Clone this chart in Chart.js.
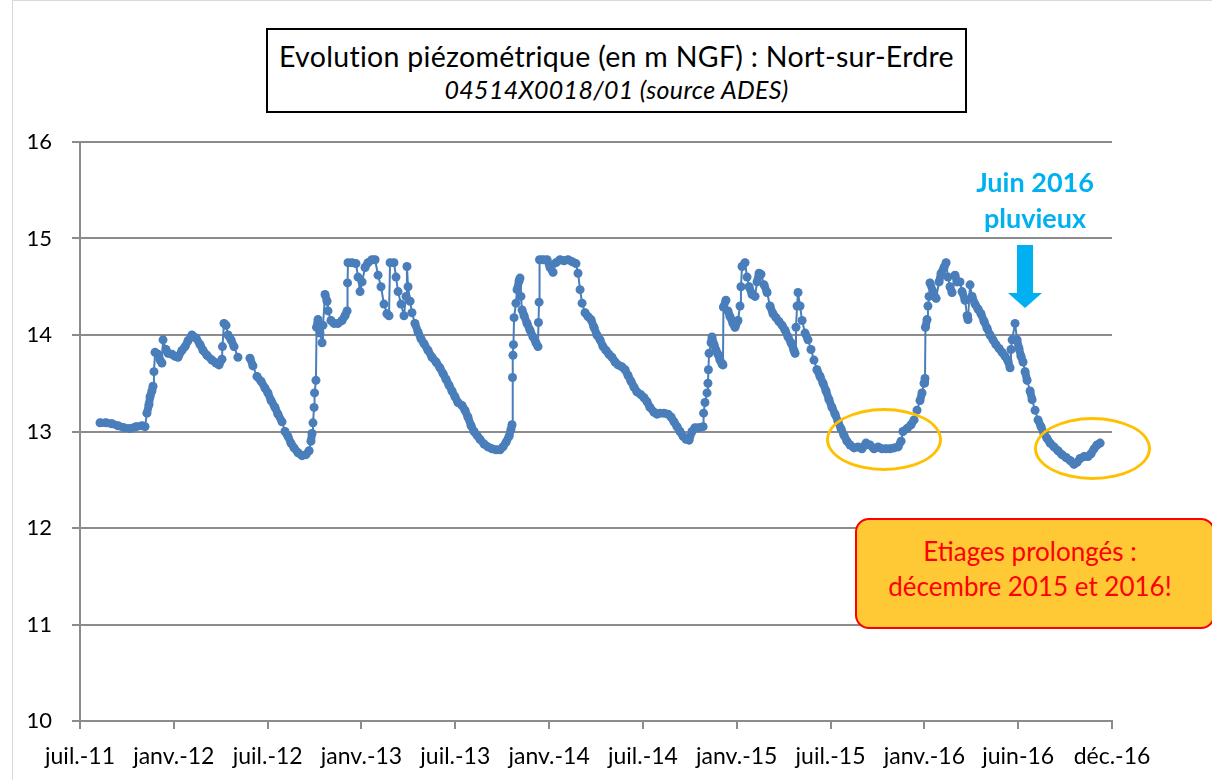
<!DOCTYPE html>
<html>
<head>
<meta charset="utf-8">
<script src="https://cdn.jsdelivr.net/npm/chart.js@4"></script>
<style>
  body { margin: 0; background: #fff; }
  #wrap { position: relative; width: 1212px; height: 780px; overflow: hidden; font-family: Lato, "Open Sans", sans-serif; }
  #frame { position: absolute; left: 12px; top: 0; width: 1212px; height: 790px; border-left: 1px solid #d9d9d9; border-top: 1px solid #d9d9d9; }
  canvas { position: absolute; left: 0; top: 0; }
  .titlebox { position: absolute; left: 266px; top: 28px; width: 697px; height: 81px; border: 2px solid #000; background: #fff; text-align: center; }
  .titlebox .l1 { font-size: 28.5px; margin-top: 10px; line-height: 33px; letter-spacing: 0.3px; }
  .titlebox .l2 { font-size: 25px; font-style: italic; line-height: 33px; letter-spacing: 0.3px; }
  .pluie { position: absolute; left: 955px; top: 164px; width: 160px; text-align: center; color: #00b0f0; font-weight: bold; font-size: 27px; line-height: 36px; }
  .ellipse { position: absolute; border: 3px solid #ffc000; border-radius: 50%; box-sizing: border-box; }
  .etiage { position: absolute; left: 855px; top: 518px; width: 360px; height: 111px; box-sizing: border-box; border: 2px solid #ff0000; border-radius: 14px; background: #ffc936; color: #ff0000; text-align: center; font-size: 26px; line-height: 35px; padding-top: 14px; padding-right: 10px; }
</style>
</head>
<body>
<div id="wrap">
  <div id="frame"></div>
  <canvas id="piezo" width="1212" height="780"></canvas>
  <div class="titlebox">
    <div class="l1">Evolution piézométrique (en m NGF) : Nort-sur-Erdre</div>
    <div class="l2">04514X0018/01 (source ADES)</div>
  </div>
  <div class="pluie">Juin 2016<br>pluvieux</div>
  <svg style="position:absolute;left:1000px;top:240px" width="50" height="75">
    <polygon points="17,5 33,5 33,53 42,53 25,68 8,53 17,53" fill="#00b0f0"/>
  </svg>
  <div class="ellipse" style="left:826px;top:408px;width:116px;height:63px"></div>
  <div class="ellipse" style="left:1034px;top:417px;width:117px;height:63px"></div>
  <div class="etiage">Etiages prolongés :<br>décembre 2015 et 2016!</div>
</div>
<script>
// axe des temps : mois écoulés depuis juil.-11
const tickLabels = ['juil.-11', 'janv.-12', 'juil.-12', 'janv.-13', 'juil.-13', 'janv.-14',
    'juil.-14', 'janv.-15', 'juil.-15', 'janv.-16', 'juin-16', 'déc.-16'];

const mois = [
    1.28, 1.66, 2.05, 2.43, 2.81, 3.20, 3.58, 3.97, 4.16, 4.28, 4.41, 4.48, 4.60, 4.67, 4.73, 4.80,
    4.99, 5.12, 5.24, 5.31, 5.50, 5.63, 5.88, 6.08, 6.27, 6.52, 6.72, 6.91, 7.16, 7.42, 7.68, 7.87,
    8.12, 8.44, 8.70, 8.89, 9.08, 9.11, 9.21, 9.34, 9.47, 9.66, 9.85, 10.10, 10.50, 10.87, 11.06, 11.32,
    11.58, 11.83, 12.02, 12.22, 12.47, 12.66, 12.92, 13.11, 13.30, 13.49, 13.69, 13.94, 14.20, 14.45,
    14.65, 14.77, 14.84, 14.90, 14.97, 15.00, 15.09, 15.13, 15.22, 15.35, 15.48, 15.54, 15.67, 15.80,
    15.86, 16.05, 16.24, 16.50, 16.76, 16.95, 17.08, 17.11, 17.14, 17.40, 17.65, 17.78, 17.91, 18.04,
    18.23, 18.42, 18.67, 18.87, 19.06, 19.25, 19.44, 19.63, 19.76, 19.83, 20.08, 20.21, 20.34, 20.53,
    20.72, 20.85, 20.91, 20.98, 21.11, 21.23, 21.42, 21.62, 21.81, 22.00, 22.26, 22.51, 22.77, 23.02,
    23.22, 23.41, 23.60, 23.79, 23.98, 24.17, 24.43, 24.62, 24.81, 25.01, 25.20, 25.39, 25.58, 25.84,
    26.09, 26.35, 26.61, 26.86, 27.05, 27.25, 27.44, 27.56, 27.63, 27.66, 27.69, 27.72, 27.76, 27.88,
    27.95, 28.08, 28.14, 28.20, 28.27, 28.40, 28.59, 28.78, 28.97, 29.16, 29.29, 29.32, 29.36, 29.39,
    29.61, 29.87, 30.06, 30.25, 30.44, 30.70, 30.95, 31.21, 31.47, 31.72, 31.85, 31.98, 32.11, 32.30,
    32.49, 32.68, 32.87, 33.06, 33.26, 33.45, 33.64, 33.83, 34.02, 34.22, 34.41, 34.66, 34.86, 35.05,
    35.24, 35.43, 35.62, 35.88, 36.07, 36.26, 36.45, 36.71, 36.90, 37.09, 37.35, 37.61, 37.80, 37.99,
    38.18, 38.37, 38.57, 38.76, 38.95, 39.14, 39.33, 39.59, 39.85, 39.88, 39.97, 40.10, 40.16, 40.19,
    40.23, 40.36, 40.42, 40.55, 40.68, 40.80, 40.93, 41.06, 41.12, 41.15, 41.31, 41.44, 41.57, 41.76,
    41.89, 42.08, 42.21, 42.27, 42.34, 42.53, 42.66, 42.79, 42.98, 43.17, 43.30, 43.43, 43.55, 43.75,
    43.94, 44.13, 44.32, 44.51, 44.70, 44.90, 45.09, 45.28, 45.47, 45.66, 45.73, 45.79, 45.86, 45.92,
    46.05, 46.18, 46.37, 46.56, 46.75, 46.94, 47.13, 47.33, 47.52, 47.71, 47.90, 48.09, 48.29, 48.48,
    48.67, 48.86, 49.05, 49.25, 49.50, 49.76, 50.01, 50.27, 50.52, 50.78, 51.04, 51.29, 51.55, 51.80,
    52.06, 52.32, 52.51, 52.63, 52.89, 53.15, 53.34, 53.53, 53.72, 53.85, 53.98, 54.04, 54.07, 54.17,
    54.23, 54.30, 54.36, 54.55, 54.75, 54.94, 55.07, 55.26, 55.39, 55.51, 55.64, 55.77, 55.96, 56.09,
    56.28, 56.41, 56.60, 56.73, 56.79, 56.92, 57.05, 57.24, 57.43, 57.62, 57.82, 58.01, 58.20, 58.39,
    58.58, 58.78, 58.97, 59.16, 59.35, 59.48, 59.54, 59.61, 59.80, 59.93, 60.05, 60.18, 60.31, 60.44,
    60.57, 60.76, 60.89, 61.08, 61.27, 61.46, 61.65, 61.84, 62.04, 62.29, 62.55, 62.80, 63.06, 63.32,
    63.57, 63.76, 63.96, 64.21, 64.47, 64.66, 64.85, 65.04, 65.24
];

// niveau piézométrique en m NGF (null = lacune de mesure)
const niveaux = [
    13.09, 13.09, 13.08, 13.06, 13.04, 13.03, 13.05, 13.06, 13.05, 13.19, 13.28, 13.36, 13.42, 13.47, 13.62, 13.82,
    13.80, 13.74, 13.71, 13.95, 13.85, 13.81, 13.80, 13.78, 13.77, 13.84, 13.88, 13.94, 14.00, 13.97, 13.90, 13.84,
    13.79, 13.74, 13.71, 13.69, 13.75, 13.88, 14.12, 14.10, 14.00, 13.95, 13.88, 13.77, null, 13.76, 13.68, 13.57,
    13.52, 13.45, 13.40, 13.32, 13.25, 13.18, 13.10, 13.00, 12.95, 12.88, 12.83, 12.78, 12.75, 12.76,
    12.80, 12.90, 12.98, 13.09, 13.25, 13.40, 13.53, 14.08, 14.16, 14.02, 13.92, 14.10, 14.42, 14.35,
    14.25, 14.15, 14.12, 14.12, 14.15, 14.20, 14.25, 14.54, 14.75, 14.75, 14.74, 14.60, 14.45, 14.55,
    14.70, 14.75, 14.78, 14.78, 14.62, 14.50, 14.32, 14.22, 14.20, 14.75, 14.75, 14.60, 14.45, 14.32,
    14.20, 14.40, 14.71, 14.50, 14.35, 14.23, 14.12, 14.03, 13.96, 13.91, 13.84, 13.77, 13.72, 13.66,
    13.60, 13.54, 13.48, 13.42, 13.36, 13.30, 13.27, 13.22, 13.15, 13.06, 13.00, 12.96, 12.92, 12.87,
    12.84, 12.82, 12.81, 12.81, 12.84, 12.89, 12.95, 13.02, 13.07, 13.56, 13.79, 13.90, 14.18, 14.33,
    14.47, 14.56, 14.59, 14.40, 14.26, 14.20, 14.12, 14.05, 13.98, 13.92, 13.88, 14.13, 14.34, 14.78,
    14.78, 14.78, 14.70, 14.65, 14.75, 14.78, 14.77, 14.78, 14.76, 14.74, 14.64, 14.47, 14.33, 14.23,
    14.19, 14.16, 14.08, 14.00, 13.95, 13.88, 13.84, 13.80, 13.77, 13.72, 13.69, 13.67, 13.64, 13.58,
    13.52, 13.46, 13.41, 13.38, 13.35, 13.31, 13.25, 13.20, 13.18, 13.19, 13.19, 13.18, 13.15, 13.10,
    13.05, 13.00, 12.95, 12.92, 12.91, 13.00, 13.04, 13.04, 13.05, 13.19, 13.30, 13.40, 13.50, 13.64,
    13.81, 13.92, 13.98, 13.90, 13.84, 13.80, 13.74, 13.70, 13.69, 14.29, 14.36, 14.25, 14.19, 14.12,
    14.08, 14.15, 14.30, 14.50, 14.71, 14.75, 14.60, 14.50, 14.42, 14.40, 14.55, 14.64, 14.63, 14.52,
    14.44, 14.30, 14.22, 14.18, 14.14, 14.10, 14.05, 13.98, 13.92, 13.84, 13.81, 14.08, 14.30, 14.44,
    14.30, 14.15, 14.02, 13.95, 13.85, 13.74, 13.64, 13.57, 13.50, 13.42, 13.33, 13.25, 13.18, 13.10,
    13.03, 12.96, 12.90, 12.86, 12.83, 12.84, 12.82, 12.88, 12.86, 12.82, 12.84, 12.82, 12.82, 12.82,
    12.83, 12.84, 12.90, 13.00, 13.03, 13.07, 13.12, 13.22, 13.32, 13.40, 13.50, 13.55, 14.08, 14.16,
    14.30, 14.40, 14.54, 14.45, 14.38, 14.55, 14.64, 14.70, 14.75, 14.60, 14.50, 14.44, 14.62, 14.55,
    14.55, 14.45, 14.36, 14.20, 14.16, 14.52, 14.40, 14.32, 14.27, 14.22, 14.14, 14.07, 14.00, 13.95,
    13.90, 13.86, 13.82, 13.78, 13.73, 13.66, 13.85, 13.95, 14.12, 13.95, 13.86, 13.78, 13.72, 13.62,
    13.53, 13.42, 13.33, 13.22, 13.12, 13.05, 12.98, 12.93, 12.88, 12.84, 12.80, 12.76, 12.73, 12.70,
    12.66, 12.68, 12.72, 12.74, 12.74, 12.77, 12.82, 12.86, 12.88
];

const lineColor = '#4a7ebb';
const axisColor = '#8c8c8c';

const points = mois.map((m, i) => ({ x: m, y: niveaux[i] }));

// trait fin pour les remontées brutales, trait épais ailleurs (points serrés)
function segWidth(ctx) {
    const dx = Math.abs(ctx.p1.x - ctx.p0.x);
    const dy = Math.abs(ctx.p1.y - ctx.p0.y);
    return (dy > 9 && dy > 2.5 * dx) ? 2 : 8;
}

new Chart(document.getElementById('piezo'), {
    type: 'line',
    data: {
        datasets: [{
            label: 'Niveau',
            data: points,
            borderColor: lineColor,
            backgroundColor: lineColor,
            borderWidth: 8,
            borderJoinStyle: 'round',
            borderCapStyle: 'round',
            pointRadius: 4.5,
            pointBorderWidth: 0,
            pointBackgroundColor: lineColor,
            spanGaps: false,
            tension: 0,
            segment: { borderWidth: segWidth }
        }]
    },
    options: {
        responsive: false,
        animation: false,
        layout: { padding: { left: 0, right: 100, top: 142, bottom: 0 } },
        plugins: { legend: { display: false }, tooltip: { enabled: false } },
        scales: {
            x: {
                type: 'linear',
                min: 0,
                max: 66,
                afterFit: s => { s.height = 59; },
                grid: { drawOnChartArea: false, color: axisColor, lineWidth: 2, tickLength: 8 },
                border: { color: axisColor, width: 2 },
                ticks: {
                    stepSize: 6,
                    autoSkip: false,
                    maxRotation: 0,
                    padding: 14,
                    color: '#000',
                    font: { family: 'Lato', size: 23 },
                    callback: v => tickLabels[Math.round(v / 6)]
                }
            },
            y: {
                min: 10,
                max: 16,
                afterFit: s => { s.width = 80; },
                grid: { color: axisColor, lineWidth: 2, tickLength: 8 },
                border: { color: axisColor, width: 2 },
                ticks: { stepSize: 1, padding: 20, color: '#000', font: { family: 'Lato', size: 22 } }
            }
        }
    }
});
</script>
</body>
</html>
